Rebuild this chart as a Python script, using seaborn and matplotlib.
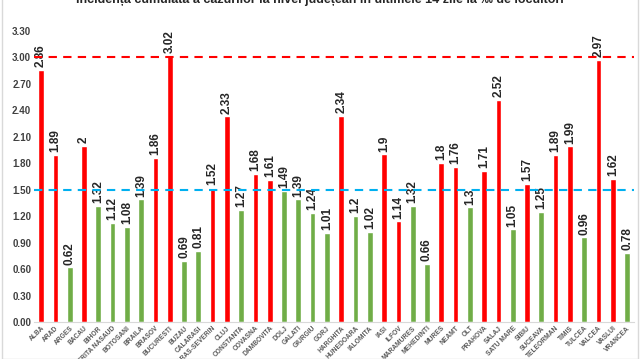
import matplotlib
matplotlib.use("Agg")
import matplotlib.pyplot as plt
import seaborn as sns
import pandas as pd

judete = ["ALBA", "ARAD", "ARGES", "BACAU", "BIHOR", "BISTRITA NASAUD", "BOTOSANI",
          "BRAILA", "BRASOV", "BUCURESTI", "BUZAU", "CALARASI", "CARAS-SEVERIN", "CLUJ",
          "CONSTANTA", "COVASNA", "DAMBOVITA", "DOLJ", "GALATI", "GIURGIU", "GORJ",
          "HARGHITA", "HUNEDOARA", "IALOMITA", "IASI", "ILFOV", "MARAMURES", "MEHEDINTI",
          "MURES", "NEAMT", "OLT", "PRAHOVA", "SALAJ", "SATU MARE", "SIBIU", "SUCEAVA",
          "TELEORMAN", "TIMIS", "TULCEA", "VALCEA", "VASLUI", "VRANCEA"]
incidenta = [2.86, 1.89, 0.62, 2, 1.32, 1.12, 1.08, 1.39, 1.86, 3.02, 0.69, 0.81, 1.52, 2.33,
             1.27, 1.68, 1.61, 1.49, 1.39, 1.24, 1.01, 2.34, 1.2, 1.02, 1.9, 1.14, 1.32, 0.66,
             1.8, 1.76, 1.3, 1.71, 2.52, 1.05, 1.57, 1.25, 1.89, 1.99, 0.96, 2.97, 1.62, 0.78]
# counties drawn in red in the source (ILFOV is red despite being under 1.5)
rosii = ["ALBA", "ARAD", "BACAU", "BRASOV", "BUCURESTI", "CARAS-SEVERIN", "CLUJ", "COVASNA",
         "DAMBOVITA", "HARGHITA", "IASI", "ILFOV", "MURES", "NEAMT", "PRAHOVA", "SALAJ",
         "SIBIU", "TELEORMAN", "TIMIS", "VALCEA", "VASLUI"]
prag_jos = 1.5
prag_sus = 3.0
titlu = "Incidența cumulată a cazurilor la nivel județean în ultimele 14 zile la ‰ de locuitori"

df = pd.DataFrame({"judet": judete, "val": incidenta})
palette = {j: ("#FF0000" if j in rosii else "#70AD47") for j in judete}

sns.set_style("white")
plt.rcParams["font.family"] = ["Liberation Sans", "DejaVu Sans"]

fig = plt.figure(figsize=(6.4, 3.59), dpi=100)
ax = fig.add_axes([0.053, 0.103, 0.938, 0.811])

sns.barplot(data=df, x="judet", y="val", hue="judet", palette=palette,
            width=0.4, legend=False, ax=ax, saturation=1)

for c in ax.containers:
    ax.bar_label(c, labels=[f"{v:g}" for v in c.datavalues], rotation=90, padding=2,
                 fontsize=8.5, fontweight="bold", color="#262626", clip_on=False)

ax.axhline(prag_sus, color="#FF0000", ls=(0, (4, 3)), lw=1.5, zorder=3)
ax.axhline(prag_jos, color="#00B0F0", ls=(0, (4, 3)), lw=1.5, zorder=3)

ax.set_ylim(0, 3.3)
ax.set_xlim(-0.5, len(judete) - 0.5)
ax.set_yticks([i * 0.3 for i in range(12)])
ax.set_yticklabels([f"{i * 0.3:.2f}" for i in range(12)], fontsize=7,
                   fontweight="bold", color="#404040")
ax.set_xticks(range(len(judete)))
ax.set_xticklabels(judete, rotation=45, ha="right", rotation_mode="anchor",
                   fontsize=4.8, fontweight="bold", color="#595959")
ax.tick_params(axis="both", length=0, pad=2)
ax.set_xlabel("")
ax.set_ylabel("")
for s in ["top", "right", "left"]:
    ax.spines[s].set_visible(False)
ax.spines["bottom"].set_color("#D9D9D9")

fig.text(0.5, 1.0, titlu, ha="center", va="center", fontsize=9, fontweight="bold",
         color="#262626")
fig.patches.append(plt.Rectangle((0.003, 0), 0.994, 1.2, transform=fig.transFigure,
                                 fill=False, edgecolor="#D9D9D9", lw=1))

fig.savefig("out.png", dpi=100)
